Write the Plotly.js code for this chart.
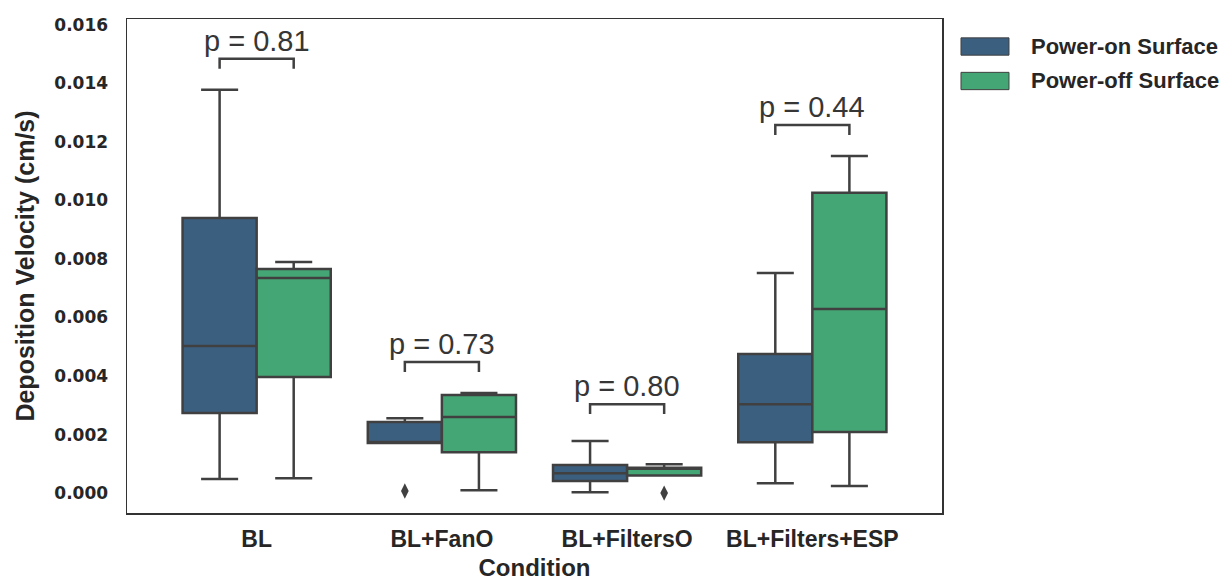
<!DOCTYPE html>
<html>
<head>
<meta charset="utf-8">
<script src="https://cdn.plot.ly/plotly-3.0.1.min.js"></script>
<style>html,body{margin:0;padding:0;background:#fff;}#chart{width:1231px;height:581px;}</style>
</head>
<body>
<div id="chart"></div>
<script>
// ---- data ----
const categories = ['BL', 'BL+FanO', 'BL+FiltersO', 'BL+Filters+ESP'];
const seriesNames = ['Power-on Surface', 'Power-off Surface'];

const onLower  = [0.00048, 0.00171, 0.00003, 0.00034];
const onQ1     = [0.00274, 0.00171, 0.00041, 0.00174];
const onMedian = [0.00503, 0.00171, 0.00068, 0.00304];
const onQ3     = [0.00940, 0.00243, 0.00096, 0.00475];
const onUpper  = [0.01378, 0.00256, 0.00178, 0.00752];

const offLower  = [0.00051, 0.00010, 0.00060, 0.00024];
const offQ1     = [0.00397, 0.00140, 0.00060, 0.00209];
const offMedian = [0.00735, 0.00260, 0.00084, 0.00629];
const offQ3     = [0.00766, 0.00335, 0.00087, 0.01026];
const offUpper  = [0.00790, 0.00342, 0.00099, 0.01152];

const onOutlierCats = ['BL+FanO'];
const onOutlierVals = [0.00007];
const offOutlierCats = ['BL+FiltersO'];
const offOutlierVals = [0.00000];

const pValues = ['0.81', '0.73', '0.80', '0.44'];
const bracketTop = [0.01484, 0.00448, 0.00304, 0.01258];
const bracketLeg = 0.00034;

const yTicks = [0, 0.002, 0.004, 0.006, 0.008, 0.010, 0.012, 0.014, 0.016];

// ---- styling ----
const colOn = '#3b5f7f';
const colOff = '#44a675';
const lineCol = '#404040';
const textCol = '#262626';
const half = 0.2;
const idx = categories.map((c, i) => i);

const traces = [];
traces.push({
  type: 'box', name: seriesNames[0], showlegend: false,
  x: idx.map(i => i - half), width: 2 * half,
  lowerfence: onLower, q1: onQ1, median: onMedian, q3: onQ3, upperfence: onUpper,
  fillcolor: colOn, line: {color: lineCol, width: 2.5}, whiskerwidth: 0.5,
  boxpoints: false, hoverinfo: 'skip'
});
traces.push({
  type: 'box', name: seriesNames[1], showlegend: false,
  x: idx.map(i => i + half), width: 2 * half,
  lowerfence: offLower, q1: offQ1, median: offMedian, q3: offQ3, upperfence: offUpper,
  fillcolor: colOff, line: {color: lineCol, width: 2.5}, whiskerwidth: 0.5,
  boxpoints: false, hoverinfo: 'skip'
});
traces.push({
  type: 'scatter', mode: 'markers', showlegend: false, hoverinfo: 'skip',
  x: onOutlierCats.map(c => categories.indexOf(c) - half), y: onOutlierVals,
  marker: {symbol: 'diamond-tall', size: 11, color: lineCol}
});
traces.push({
  type: 'scatter', mode: 'markers', showlegend: false, hoverinfo: 'skip',
  x: offOutlierCats.map(c => categories.indexOf(c) + half), y: offOutlierVals,
  marker: {symbol: 'diamond-tall', size: 11, color: lineCol}
});
// significance brackets
idx.forEach(i => {
  traces.push({
    type: 'scatter', mode: 'lines', showlegend: false, hoverinfo: 'skip',
    x: [i - half, i - half, i + half, i + half],
    y: [bracketTop[i] - bracketLeg, bracketTop[i], bracketTop[i], bracketTop[i] - bracketLeg],
    line: {color: lineCol, width: 2.5}
  });
});

const annotations = idx.map(i => ({
  x: i, y: bracketTop[i], xref: 'x', yref: 'y',
  text: 'p = ' + pValues[i], showarrow: false,
  xanchor: 'center', yanchor: 'bottom', yshift: 0,
  font: {family: 'Liberation Sans, Arial, sans-serif', size: 29, color: '#363636'}
}));

// manual legend (paper coords)
const legendColors = [colOn, colOff];
const legendY = [0.9443, 0.8745];
const shapes = [];
seriesNames.forEach((n, k) => {
  shapes.push({
    type: 'rect', xref: 'paper', yref: 'paper',
    x0: 1.0233, x1: 1.0822, y0: legendY[k] - 0.0175, y1: legendY[k] + 0.0175,
    fillcolor: legendColors[k], line: {color: lineCol, width: 1}
  });
  annotations.push({
    xref: 'paper', yref: 'paper', x: 1.1067, y: legendY[k],
    xanchor: 'left', yanchor: 'middle', showarrow: false, text: n,
    font: {family: 'Liberation Sans, Arial, sans-serif', size: 22, weight: 'bold', color: textCol}
  });
});

const layout = {
  width: 1231, height: 581,
  margin: {l: 127, r: 289, t: 19, b: 68, pad: 0},
  paper_bgcolor: '#ffffff', plot_bgcolor: '#ffffff',
  showlegend: false,
  boxmode: 'overlay',
  xaxis: {
    range: [-0.7, 3.7], tickvals: idx, ticktext: categories,
    showgrid: false, zeroline: false, ticks: '',
    showline: true, mirror: true, linecolor: '#333333', linewidth: 1.5,
    ticklabelstandoff: 5,
    tickfont: {family: 'Liberation Sans, Arial, sans-serif', size: 23, weight: 'bold', color: textCol},
    title: {text: 'Condition', standoff: 9,
      font: {family: 'Liberation Sans, Arial, sans-serif', size: 24, weight: 'bold', color: textCol}}
  },
  yaxis: {
    range: [-0.00068, 0.0162], tickvals: yTicks, tickformat: '.3f',
    showgrid: false, zeroline: false, ticks: '',
    showline: true, mirror: true, linecolor: '#333333', linewidth: 1.5,
    ticklabelstandoff: 14,
    tickfont: {family: 'DejaVu Sans, sans-serif', size: 17, weight: 'bold', color: textCol},
    title: {text: 'Deposition Velocity (cm/s)', standoff: 12,
      font: {family: 'Liberation Sans, Arial, sans-serif', size: 25, weight: 'bold', color: textCol}}
  },
  shapes: shapes,
  annotations: annotations
};

Plotly.newPlot('chart', traces, layout, {displayModeBar: false, staticPlot: true});
</script>
</body>
</html>
